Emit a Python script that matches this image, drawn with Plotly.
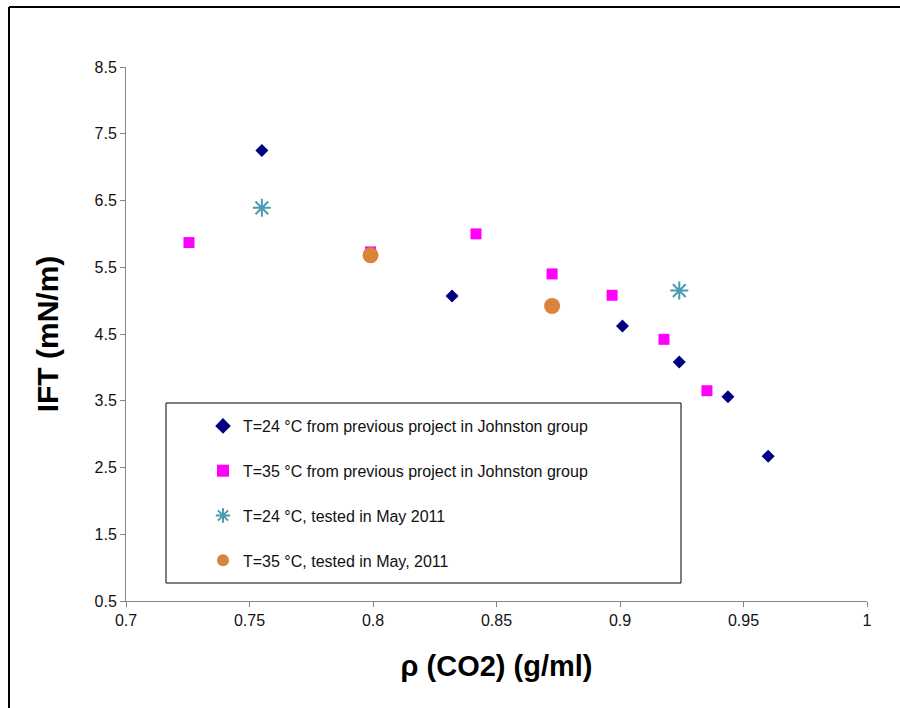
import plotly.graph_objects as go

# Data
t24_prev_x = [0.755, 0.832, 0.901, 0.924, 0.9437, 0.960]
t24_prev_y = [7.25, 5.07, 4.62, 4.08, 3.56, 2.67]

t35_prev_x = [0.7255, 0.799, 0.8417, 0.8725, 0.8968, 0.9178, 0.9352]
t35_prev_y = [5.87, 5.73, 6.00, 5.40, 5.08, 4.42, 3.65]

t24_may_x = [0.755, 0.924]
t24_may_y = [6.39, 5.15]

t35_may_x = [0.799, 0.8725]
t35_may_y = [5.68, 4.92]

names = [
    "T=24 °C from previous project in Johnston group",
    "T=35 °C from previous project in Johnston group",
    "T=24 °C, tested in May 2011",
    "T=35 °C, tested in May, 2011",
]

x_ticks = [0.7, 0.75, 0.8, 0.85, 0.9, 0.95, 1.0]
x_tick_labels = ["0.7", "0.75", "0.8", "0.85", "0.9", "0.95", "1"]
y_ticks = [0.5, 1.5, 2.5, 3.5, 4.5, 5.5, 6.5, 7.5, 8.5]
y_tick_labels = ["0.5", "1.5", "2.5", "3.5", "4.5", "5.5", "6.5", "7.5", "8.5"]

FONT = "Liberation Sans, Arial, sans-serif"

fig = go.Figure()
fig.add_trace(go.Scatter(x=t24_prev_x, y=t24_prev_y, mode="markers", name=names[0],
                         legendgroup="a",
                         marker=dict(symbol="diamond", size=10, color="#000080")))
fig.add_trace(go.Scatter(x=t35_prev_x, y=t35_prev_y, mode="markers", name=names[1],
                         legendgroup="b",
                         marker=dict(symbol="square", size=11, color="#FF00FF")))
fig.add_trace(go.Scatter(x=t24_may_x, y=t24_may_y, mode="markers", name=names[2],
                         legendgroup="c",
                         marker=dict(symbol="asterisk-open", size=15, color="#4A9AB0",
                                     line=dict(color="#4A9AB0", width=2))))
fig.add_trace(go.Scatter(x=t35_may_x, y=t35_may_y, mode="markers", name=names[3],
                         legendgroup="d",
                         marker=dict(symbol="circle", size=16, color="#D9843A")))

L, R, T, B = 126, 33, 67, 107
W, H = 900, 708
pw, ph = W - L - R, H - T - B

def px(xp):
    return (xp - L) / pw

def py(yp):
    return (H - B - yp) / ph

fig.update_layout(
    width=W, height=H,
    margin=dict(l=L, r=R, t=T, b=B),
    paper_bgcolor="white", plot_bgcolor="white",
    font=dict(family=FONT, size=16, color="#111111"),
    showlegend=True,
    legend=dict(x=px(203), y=py(409), xanchor="left", yanchor="top",
                bgcolor="rgba(0,0,0,0)", borderwidth=0,
                font=dict(family=FONT, size=16, color="#111111"),
                tracegroupgap=21, itemsizing="constant"),
    xaxis=dict(range=[0.7, 1.0], tickvals=x_ticks, ticktext=x_tick_labels,
               showgrid=False, zeroline=False, showline=True, linecolor="#868686",
               linewidth=1, ticks="outside", ticklen=5, tickcolor="#868686",
               tickfont=dict(family=FONT, size=16, color="#111111"),
               title=dict(text="<b>ρ (CO2) (g/ml)</b>", standoff=27,
                          font=dict(family=FONT, size=29, color="#000000"))),
    yaxis=dict(range=[0.5, 8.5], tickvals=y_ticks, ticktext=y_tick_labels,
               showgrid=False, zeroline=False, showline=True, linecolor="#868686",
               linewidth=1, ticks="outside", ticklen=5, tickcolor="#868686",
               tickfont=dict(family=FONT, size=16, color="#111111"),
               title=dict(text="<b>IFT (mN/m)</b>", standoff=27,
                          font=dict(family=FONT, size=30, color="#000000"))),
    shapes=[
        # legend box
        dict(type="rect", xref="paper", yref="paper",
             x0=px(166), x1=px(681), y0=py(583), y1=py(403),
             line=dict(color="#000000", width=1), fillcolor="rgba(0,0,0,0)", layer="below"),
        # outer frame (top and left)
        dict(type="line", xref="paper", yref="paper",
             x0=px(9), x1=px(905), y0=py(7), y1=py(7),
             line=dict(color="#000000", width=2)),
        dict(type="line", xref="paper", yref="paper",
             x0=px(9), x1=px(9), y0=py(7), y1=py(712),
             line=dict(color="#000000", width=2)),
    ],
)

fig.write_html("out.html", config={"displayModeBar": False},
               post_script="document.body.style.margin='0';")
